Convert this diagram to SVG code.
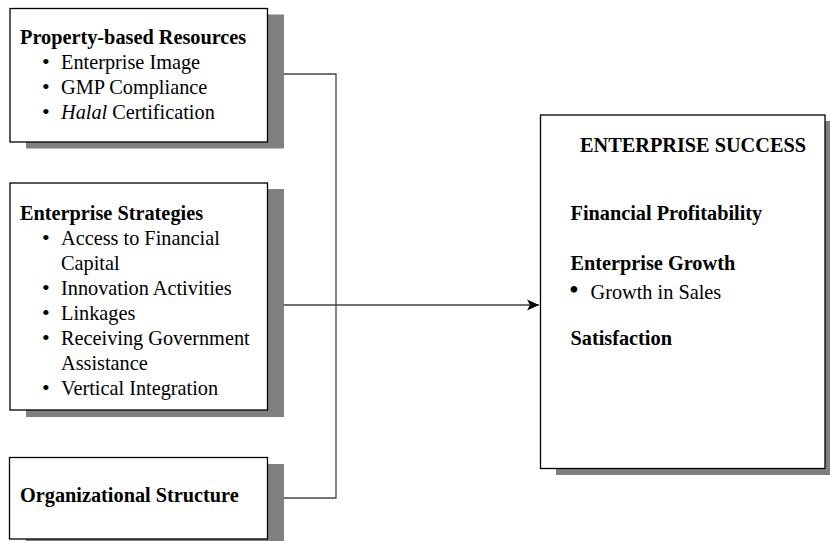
<svg xmlns="http://www.w3.org/2000/svg" width="830" height="541" viewBox="0 0 830 541">
<style>
.box{fill:#fff;stroke:#000;stroke-width:1.3}
.sh{fill:#808080}
.t{font-family:"Liberation Serif","Times New Roman",serif;font-size:20.3px;fill:#000}
.b{font-weight:bold}
.i{font-style:italic}
.u{font-size:22px}
.conn{fill:none;stroke:#444;stroke-width:1.3}
</style>
<defs>
<marker id="arr" markerUnits="userSpaceOnUse" markerWidth="14" markerHeight="12" refX="13" refY="6" orient="auto">
<path d="M1,0.5 L13,6 L1,11.5 L4,6 Z" fill="#000"/>
</marker>
</defs>
<rect width="830" height="541" fill="#fff"/>
<g id="connectors">
<path class="conn" d="M268,74 H336 V498 H274"/>
<path class="conn" d="M268,305 H539" marker-end="url(#arr)"/>
</g>
<g id="property-based-resources">
<rect class="sh" x="26" y="14.5" width="258" height="134"/>
<rect class="box" x="10" y="8.5" width="257.5" height="133.5"/>
<text class="t b" x="20" y="43.5">Property-based Resources</text>
<text class="t u" x="42" y="69">•</text><text class="t" x="61" y="69">Enterprise Image</text>
<text class="t u" x="42" y="94">•</text><text class="t" x="61" y="94">GMP Compliance</text>
<text class="t u" x="42" y="119">•</text><text class="t" x="61" y="119"><tspan class="i">Halal</tspan> Certification</text>
</g>
<g id="enterprise-strategies">
<rect class="sh" x="26" y="189" width="258" height="228"/>
<rect class="box" x="10" y="183" width="257.5" height="227"/>
<text class="t b" x="20" y="220">Enterprise Strategies</text>
<text class="t u" x="42" y="245">•</text><text class="t" x="61" y="245">Access to Financial</text>
<text class="t" x="61" y="270">Capital</text>
<text class="t u" x="42" y="295">•</text><text class="t" x="61" y="295">Innovation Activities</text>
<text class="t u" x="42" y="320">•</text><text class="t" x="61" y="320">Linkages</text>
<text class="t u" x="42" y="345">•</text><text class="t" x="61" y="345">Receiving Government</text>
<text class="t" x="61" y="370">Assistance</text>
<text class="t u" x="42" y="395">•</text><text class="t" x="61" y="395">Vertical Integration</text>
</g>
<g id="organizational-structure">
<rect class="sh" x="26" y="464" width="258" height="84"/>
<rect class="box" x="9.5" y="457.5" width="258" height="81.5"/>
<text class="t b" x="20" y="502">Organizational Structure</text>
</g>
<g id="enterprise-success">
<rect class="sh" x="556" y="121" width="285" height="354"/>
<rect class="box" x="540.5" y="115" width="284.5" height="353.5"/>
<text class="t b" x="580" y="152">ENTERPRISE SUCCESS</text>
<text class="t b" x="570.5" y="220">Financial Profitability</text>
<text class="t b" x="570.5" y="270">Enterprise Growth</text>
<text class="t" x="569" y="299" style="font-size:28px">•</text><text class="t" x="590.5" y="299">Growth in Sales</text>
<text class="t b" x="570.5" y="345">Satisfaction</text>
</g>
</svg>
